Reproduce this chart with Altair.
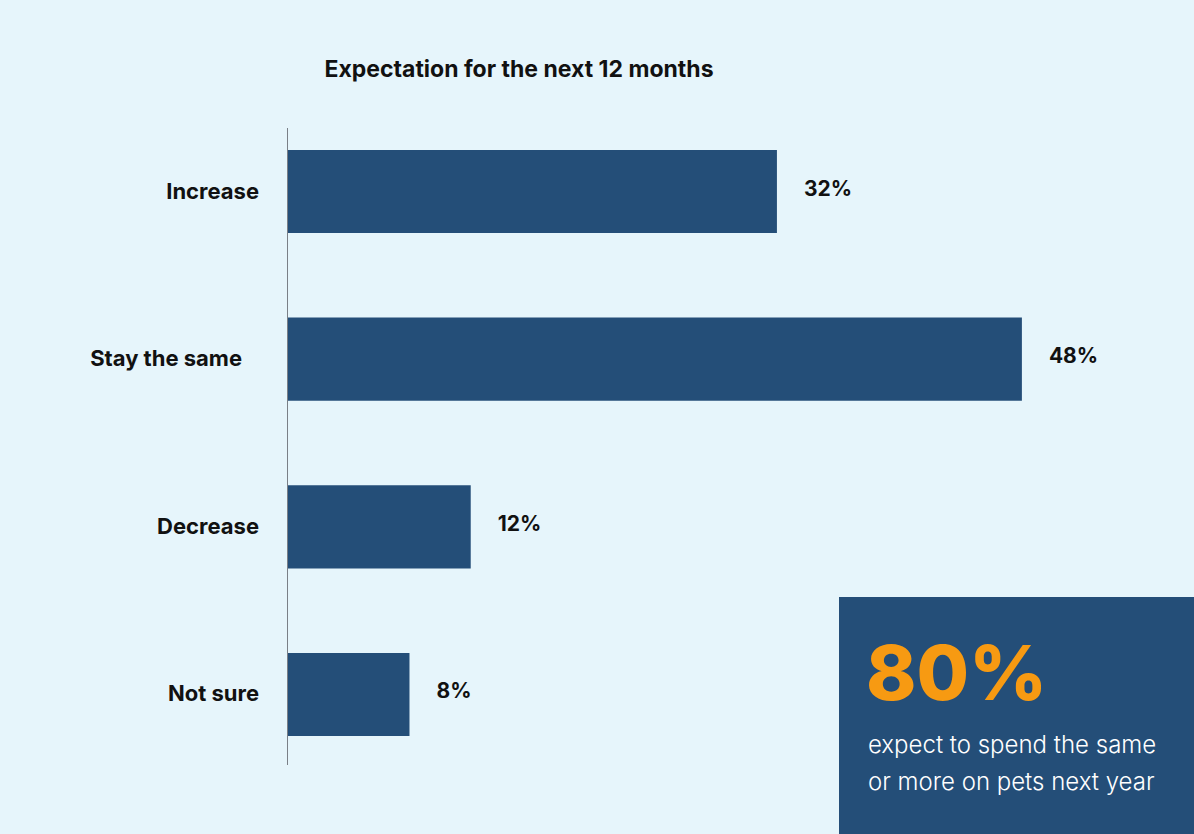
import altair as alt
import pandas as pd

# Survey answers and their shares (percent)
categories = ["Increase", "Stay the same", "Decrease", "Not sure"]
shares = [32, 48, 12, 8]
value_labels = ["32%", "48%", "12%", "8%"]

headline = "Expectation for the next 12 months"
callout_value = "80%"
callout_lines = ["expect to spend the same", "or more on pets next year"]

BG = "#E6F5FB"
NAVY = "#244E78"
ORANGE = "#F79A12"
INK = "#111111"

df = pd.DataFrame({"answer": categories, "share": shares, "label": value_labels})
one = pd.DataFrame({"k": [0]})

PLOT_W = 888
BAND_H = 630   # band area; the axis line runs a little further down
AXIS_H = 637

x_scale = alt.Scale(domain=[0, 58], nice=False)
y_enc = alt.Y(
    "answer:N",
    sort=categories,
    scale=alt.Scale(paddingInner=0.504, paddingOuter=0.131),
    axis=None,
)

bars = alt.Chart(df).mark_bar(color=NAVY).encode(
    x=alt.X("share:Q", scale=x_scale, axis=None),
    y=y_enc,
)

values = alt.Chart(df).mark_text(
    align="left", baseline="middle", dx=27, dy=-2,
    font="Inter", fontWeight="bold", fontSize=21, color=INK,
).encode(
    x=alt.X("share:Q", scale=x_scale, axis=None),
    y=y_enc,
    text="label:N",
)

# category labels, right-aligned left of the axis line
label_style = dict(
    align="right", baseline="middle", font="Inter", fontWeight="bold",
    fontSize=22, color=INK,
)
cat_labels = alt.Chart(df).transform_filter(
    alt.datum.answer != "Stay the same"
).mark_text(**label_style).encode(
    x=alt.value(-28), y=y_enc, text="answer:N"
)
cat_labels_wide = alt.Chart(df).transform_filter(
    alt.datum.answer == "Stay the same"
).mark_text(**label_style).encode(
    x=alt.value(-45), y=y_enc, text="answer:N"
)

axis_line = alt.Chart(one).mark_rule(color="#7a7f86", strokeWidth=1).encode(
    x=alt.value(0.5), y=alt.value(0), y2=alt.value(AXIS_H)
)

title = alt.Chart(one).mark_text(
    text=headline, align="center", baseline="alphabetic",
    font="Inter", fontWeight="bold", fontSize=23, color=INK,
).encode(x=alt.value(232), y=alt.value(-51))

box = alt.Chart(one).mark_rect(color=NAVY).encode(
    x=alt.value(552), x2=alt.value(910), y=alt.value(469), y2=alt.value(710)
)

big = alt.Chart(one).mark_text(
    text=callout_value, align="left", baseline="alphabetic",
    font="Inter", fontWeight=800, fontSize=76, color=ORANGE,
).encode(x=alt.value(579), y=alt.value(572))

line_style = dict(
    align="left", baseline="alphabetic", font="Inter", fontWeight=300,
    fontSize=24, color="#FFFFFF",
)
line1 = alt.Chart(one).mark_text(text=callout_lines[0], **line_style).encode(
    x=alt.value(581), y=alt.value(625)
)
line2 = alt.Chart(one).mark_text(text=callout_lines[1], **line_style).encode(
    x=alt.value(581), y=alt.value(662)
)

chart = (
    alt.layer(bars, values, cat_labels, cat_labels_wide, axis_line,
              title, box, big, line1, line2)
    .properties(
        width=PLOT_W,
        height=BAND_H,
        background=BG,
        autosize=alt.AutoSizeParams(type="none"),
        padding={"left": 287, "top": 128, "right": 19, "bottom": 76},
    )
    .configure_view(stroke=None)
)

chart.save("out.html", embed_options={"renderer": "svg", "actions": False})
